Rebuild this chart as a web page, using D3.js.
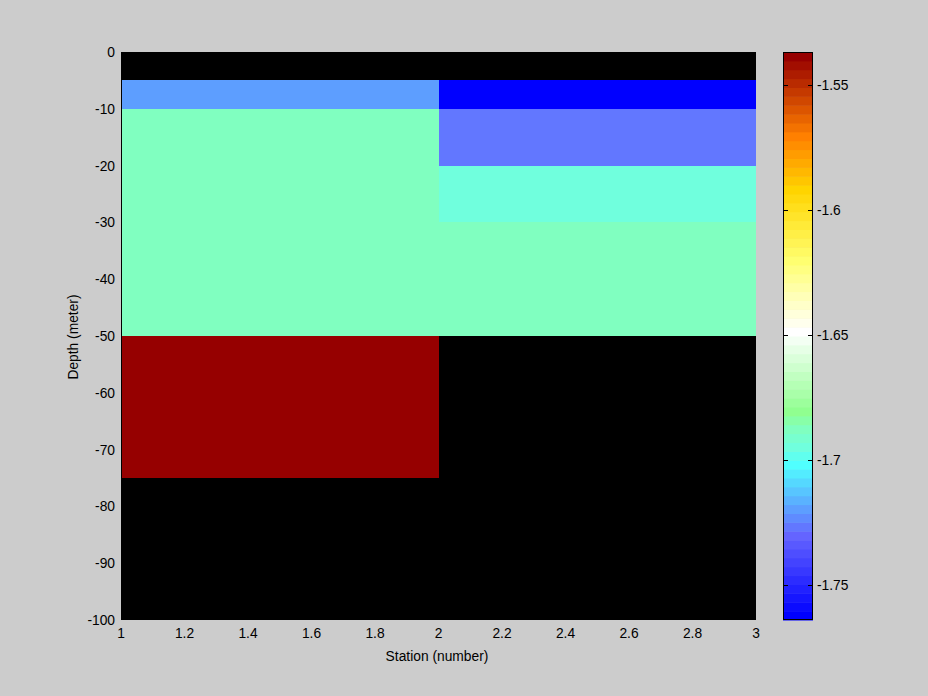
<!DOCTYPE html>
<html><head><meta charset="utf-8">
<script src="https://cdn.jsdelivr.net/npm/d3@7"></script>
<style>body{margin:0;background:#cccccc;} svg{display:block;} text{font-family:"Liberation Sans",Arial,sans-serif;font-size:13.8px;fill:#000;}</style>
</head><body>
<script>
// ---- data ----
const stationEdges = [1, 2, 3];
const depthEdges = [0, -5, -10, -20, -30, -50, -75, -100];
const station1 = [NaN, -1.718, -1.6865, -1.688, -1.688, -1.537, NaN];
const station2 = [NaN, -1.764, -1.725, -1.695, -1.687, NaN, NaN];
const xTicks = [1, 1.2, 1.4, 1.6, 1.8, 2, 2.2, 2.4, 2.6, 2.8, 3];
const yTicks = [0, -10, -20, -30, -40, -50, -60, -70, -80, -90, -100];
const cbTicks = [-1.55, -1.6, -1.65, -1.7, -1.75];
const cLimits = [-1.764, -1.537];
const nLevels = 64;
// colormap anchors (level index : colour)
const cmapLevels = [0, 9, 17, 19, 21, 23, 32, 40, 48, 54, 63];
const cmapColors = ["#0000ff", "#6464ff", "#50ffff", "#70ffdd", "#80ffc0", "#90ff90", "#ffffff", "#ffff70", "#ffd400", "#ff8000", "#960000"];

const W = 928, H = 696;
const svg = d3.select("body").append("svg").attr("width", W).attr("height", H);
svg.append("rect").attr("width", W).attr("height", H).attr("fill", "#cccccc");

const x = d3.scaleLinear().domain([1, 3]).range([121, 756]);
const y = d3.scaleLinear().domain([0, -100]).range([52, 620]);

const cmapInterp = d3.scaleLinear().domain(cmapLevels).range(cmapColors).interpolate(d3.interpolateRgb);
const cmap = d3.range(nLevels).map(i => cmapInterp(i));
function colorOf(v) {
  let idx = Math.floor((v - cLimits[0]) / (cLimits[1] - cLimits[0]) * nLevels);
  idx = Math.max(0, Math.min(nLevels - 1, idx));
  return cmap[idx];
}

// axes background
svg.append("rect").attr("x", x(1)).attr("y", y(0)).attr("width", x(3) - x(1)).attr("height", y(-100) - y(0)).attr("fill", "#000");

const cells = [];
[station1, station2].forEach((col, si) => {
  col.forEach((v, di) => {
    if (!isNaN(v)) cells.push({x0: stationEdges[si], x1: stationEdges[si + 1], d0: depthEdges[di], d1: depthEdges[di + 1], v});
  });
});
svg.append("g").selectAll("rect").data(cells).join("rect")
  .attr("x", d => x(d.x0)).attr("y", d => y(d.d0))
  .attr("width", d => x(d.x1) - x(d.x0)).attr("height", d => y(d.d1) - y(d.d0))
  .attr("fill", d => colorOf(d.v)).attr("shape-rendering", "crispEdges");

// left axis line
svg.append("line").attr("x1", x(1) + 0.5).attr("x2", x(1) + 0.5).attr("y1", y(0)).attr("y2", y(-100)).attr("stroke", "#000");

// x tick labels
svg.append("g").selectAll("text").data(xTicks).join("text")
  .attr("x", d => x(d)).attr("y", 638).attr("text-anchor", "middle")
  .text(d => String(+d.toFixed(1)));
// y tick labels
svg.append("g").selectAll("text").data(yTicks).join("text")
  .attr("x", 115).attr("y", d => y(d) + 5).attr("text-anchor", "end")
  .text(d => String(d));

svg.append("text").attr("x", 437).attr("y", 661).attr("text-anchor", "middle").text("Station (number)");
svg.append("text").attr("transform", "translate(78,337) rotate(-90)").attr("text-anchor", "middle").text("Depth (meter)");

// colorbar
const cbX0 = 783, cbX1 = 813;
const cy = d3.scaleLinear().domain(cLimits).range([620, 52]);
const step = (cLimits[1] - cLimits[0]) / nLevels;
svg.append("g").selectAll("rect").data(cmap).join("rect")
  .attr("x", cbX0).attr("width", cbX1 - cbX0)
  .attr("y", (c, i) => cy(cLimits[0] + (i + 1) * step))
  .attr("height", (c, i) => cy(cLimits[0] + i * step) - cy(cLimits[0] + (i + 1) * step) + 0.5)
  .attr("fill", c => c);
svg.append("rect").attr("x", cbX0 + 0.5).attr("y", 52.5).attr("width", cbX1 - cbX0 - 1).attr("height", 567)
  .attr("fill", "none").attr("stroke", "#000");
const cbt = svg.append("g").selectAll("g").data(cbTicks).join("g");
cbt.append("line").attr("x1", cbX0).attr("x2", cbX0 + 5).attr("y1", d => Math.round(cy(d)) + 0.5).attr("y2", d => Math.round(cy(d)) + 0.5).attr("stroke", "#000");
cbt.append("line").attr("x1", cbX1 - 5).attr("x2", cbX1).attr("y1", d => Math.round(cy(d)) + 0.5).attr("y2", d => Math.round(cy(d)) + 0.5).attr("stroke", "#000");
cbt.append("text").attr("x", 817).attr("y", d => cy(d) + 5).text(d => String(d));
</script>
</body></html>
